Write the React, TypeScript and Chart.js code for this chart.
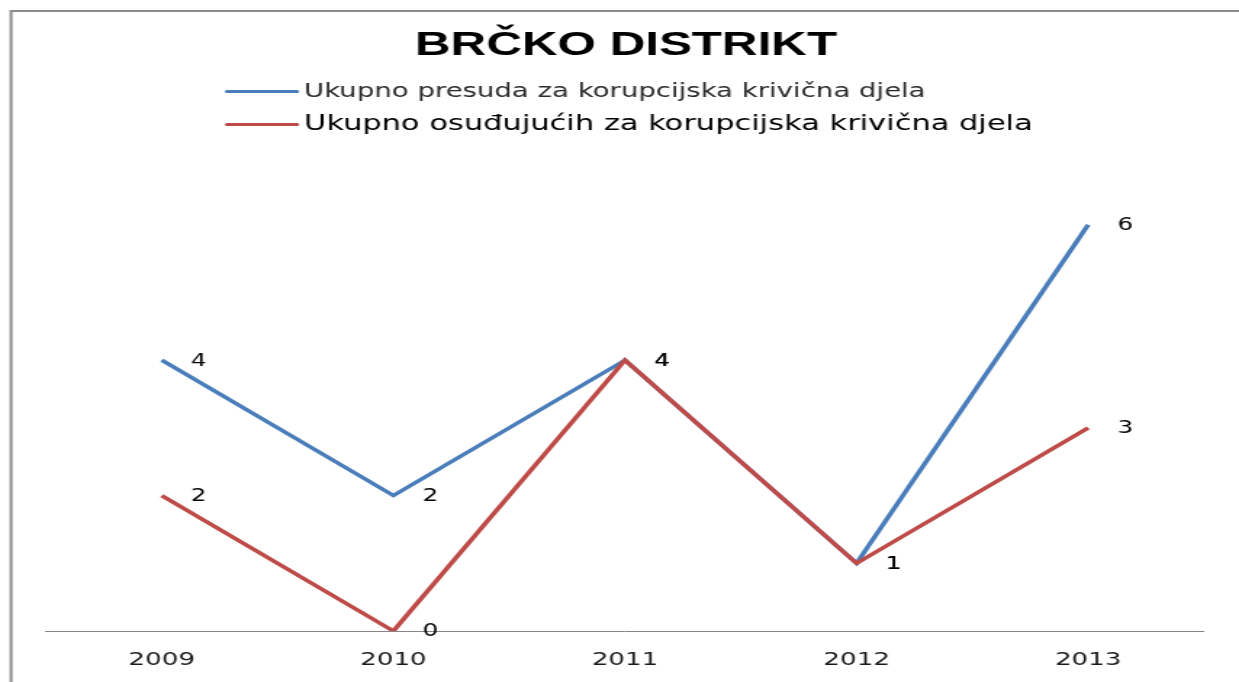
import { useEffect, useRef } from 'react';
import { Chart, registerables } from 'chart.js';

Chart.register(...registerables);

const CSS_W = 1239;
const CSS_H = 682;
const W = 854; // internal canvas width; canvas is stretched horizontally to CSS_W
const S = CSS_W / W;

const chartTitle = 'BRČKO DISTRIKT';
const years = ['2009', '2010', '2011', '2012', '2013'];
const seriesNames = [
  'Ukupno presuda za korupcijska krivična djela',
  'Ukupno osuđujućih za korupcijska krivična djela',
];
const presude = [4, 2, 4, 1, 6];
const osudjujuce = [2, 0, 4, 1, 3];
const seriesColors = ['#4A7EBB', '#BE4B48'];

const decorPlugin = {
  id: 'decor',
  beforeDraw(chart: any) {
    const ctx = chart.ctx;
    ctx.save();
    ctx.fillStyle = '#ffffff';
    ctx.fillRect(0, 0, chart.width, chart.height);
    ctx.strokeStyle = '#8c8c8c';
    ctx.lineWidth = 2;
    ctx.beginPath();
    ctx.moveTo(11 / S, chart.height + 5);
    ctx.lineTo(11 / S, 11);
    ctx.lineTo(chart.width + 5, 11);
    ctx.stroke();
    ctx.restore();
  },
  afterDraw(chart: any) {
    const ctx = chart.ctx;
    ctx.save();
    // title
    ctx.fillStyle = '#000000';
    ctx.font = 'bold 34px "Liberation Sans", Arial, sans-serif';
    ctx.textAlign = 'center';
    ctx.textBaseline = 'middle';
    ctx.fillText(chartTitle, 626 / S, 46);
    // legend
    const rows = [
      { y: 91, font: '19px "DejaVu Sans", sans-serif', color: '#2a2a2a' },
      { y: 124, font: '21px "DejaVu Sans", sans-serif', color: '#000000' },
    ];
    rows.forEach((r, i) => {
      ctx.strokeStyle = seriesColors[i];
      ctx.lineWidth = 3;
      ctx.lineCap = 'round';
      ctx.beginPath();
      ctx.moveTo(227 / S, r.y + 0.5);
      ctx.lineTo(297 / S, r.y + 0.5);
      ctx.stroke();
      ctx.fillStyle = r.color;
      ctx.font = r.font;
      ctx.textAlign = 'left';
      ctx.textBaseline = 'middle';
      ctx.fillText(seriesNames[i], 304 / S, r.y + 1);
    });
    ctx.restore();
  },
  afterDatasetsDraw(chart: any) {
    const ctx = chart.ctx;
    ctx.save();
    ctx.fillStyle = '#000000';
    ctx.font = '17px "DejaVu Sans", sans-serif';
    ctx.textAlign = 'center';
    ctx.textBaseline = 'middle';
    chart.data.datasets.forEach((ds: any, di: number) => {
      const meta = chart.getDatasetMeta(di);
      meta.data.forEach((el: any, i: number) => {
        ctx.fillText(String(ds.data[i]), el.x + 37 / S, el.y + 1);
      });
    });
    ctx.restore();
  },
};

export default function App() {
  const ref = useRef<HTMLCanvasElement | null>(null);

  useEffect(() => {
    document.body.style.margin = '0';
    const canvas = ref.current;
    if (!canvas) return;
    const chart = new Chart(canvas, {
      type: 'line',
      data: {
        labels: years,
        datasets: [
          {
            label: seriesNames[0],
            data: presude,
            borderColor: seriesColors[0],
            backgroundColor: seriesColors[0],
            borderWidth: 3.5,
            pointRadius: 0,
            tension: 0,
            order: 1,
          },
          {
            label: seriesNames[1],
            data: osudjujuce,
            borderColor: seriesColors[1],
            backgroundColor: seriesColors[1],
            borderWidth: 3.5,
            pointRadius: 0,
            tension: 0,
            order: 0,
          },
        ],
      },
      options: {
        responsive: false,
        animation: false,
        devicePixelRatio: 1,
        layout: {
          padding: { top: 157, left: 46 / S, right: W - 1204 / S, bottom: 0 },
        },
        plugins: {
          legend: { display: false },
          title: { display: false },
          tooltip: { enabled: false },
        },
        scales: {
          x: {
            type: 'category',
            offset: true,
            grid: { display: false, drawTicks: false },
            border: { display: true, color: '#868686', width: 1 },
            afterFit: (scale: any) => {
              scale.height = 51;
            },
            ticks: {
              padding: 19,
              color: '#1a1a1a',
              font: { family: '"DejaVu Sans", sans-serif', size: 18 },
            },
          },
          y: {
            display: false,
            min: 0,
            max: 7,
          },
        },
      },
      plugins: [decorPlugin],
    });
    return () => chart.destroy();
  }, []);

  return (
    <canvas
      ref={ref}
      width={W}
      height={CSS_H}
      style={{ display: 'block', width: CSS_W + 'px', height: CSS_H + 'px' }}
    />
  );
}
